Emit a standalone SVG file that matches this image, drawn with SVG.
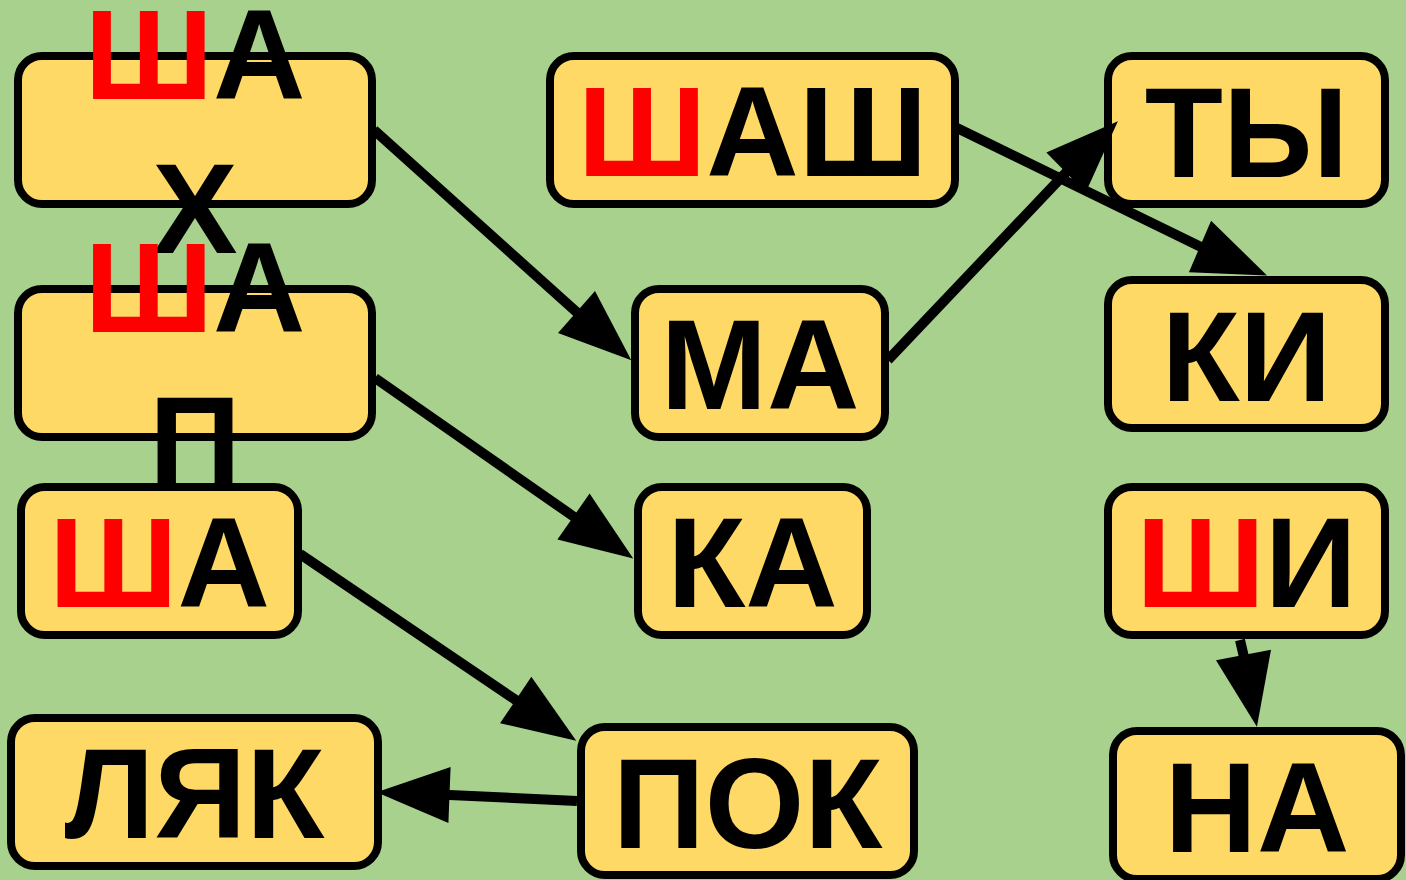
<svg xmlns="http://www.w3.org/2000/svg" width="1406" height="880" viewBox="0 0 1406 880">
<style>
.box{fill:#ffd966;stroke:#000;stroke-width:8}
.lbl{font-family:"Liberation Sans",Arial,sans-serif;font-weight:bold;font-size:128px;fill:#000;text-anchor:middle}
.r{fill:#ff0000}
.edge{fill:none;stroke:#000;stroke-width:10;marker-end:url(#arr)}
</style>
<defs>
<marker id="arr" markerUnits="userSpaceOnUse" markerWidth="80" markerHeight="60" refX="1" refY="30" orient="auto" overflow="visible">
<path d="M0,2 L73,30 L0,58 Z" fill="#000"/>
</marker>
</defs>
<rect width="1406" height="880" fill="#a9d18e"/>
<g id="nodes">
<g id="n_shah"><rect class="box" x="18" y="56" width="354" height="148" rx="24"/><text class="lbl" x="195" y="99"><tspan class="r">Ш</tspan>А</text><text class="lbl" x="195" y="253">Х</text></g>
<g id="n_shap"><rect class="box" x="18" y="289" width="354" height="148" rx="24"/><text class="lbl" x="195" y="332"><tspan class="r">Ш</tspan>А</text><text class="lbl" x="195" y="486">П</text></g>
<g id="n_sha"><rect class="box" x="21" y="487" width="277" height="148" rx="24"/><text class="lbl" x="159.5" y="607"><tspan class="r">Ш</tspan>А</text></g>
<g id="n_lyak"><rect class="box" x="11" y="718" width="367" height="148" rx="24"/><text class="lbl" x="194.5" y="838">ЛЯК</text></g>
<g id="n_shash"><rect class="box" x="550" y="56" width="405" height="148" rx="24"/><text class="lbl" x="752.5" y="176"><tspan class="r">Ш</tspan>АШ</text></g>
<g id="n_ma"><rect class="box" x="635" y="289" width="250" height="148" rx="24"/><text class="lbl" x="760" y="409">МА</text></g>
<g id="n_ka"><rect class="box" x="638" y="487" width="229" height="148" rx="24"/><text class="lbl" x="752.5" y="607">КА</text></g>
<g id="n_pok"><rect class="box" x="581" y="727" width="333" height="148" rx="24"/><text class="lbl" x="747.5" y="848">ПОК</text></g>
<g id="n_ty"><rect class="box" x="1108" y="56" width="277" height="148" rx="24"/><text class="lbl" x="1246.5" y="177">ТЫ</text></g>
<g id="n_ki"><rect class="box" x="1108" y="280" width="277" height="148" rx="24"/><text class="lbl" x="1246.5" y="401">КИ</text></g>
<g id="n_shi"><rect class="box" x="1108" y="487" width="277" height="148" rx="24"/><text class="lbl" x="1246.5" y="607"><tspan class="r">Ш</tspan>И</text></g>
<g id="n_na"><rect class="box" x="1113" y="731" width="288" height="148" rx="24"/><text class="lbl" x="1257" y="852">НА</text></g>
</g>
<g id="edges">
<path class="edge" d="M374,130 L576.5,312 l0.751,0.661"/>
<path class="edge" d="M375,378 L573.5,516.5 l0.818,0.575"/>
<path class="edge" d="M300,554 L515.7,700 l0.83,0.559"/>
<path class="edge" d="M577,801 L449.5,795 l-0.999,-0.039"/>
<path class="edge" d="M888,360 L1066,172.5 l0.71,-0.703"/>
<path class="edge" d="M957,128 L1200,246.5 l0.918,0.396"/>
<path class="edge" d="M1240,640 L1243.5,655 l0.184,0.983"/>
</g>
</svg>
